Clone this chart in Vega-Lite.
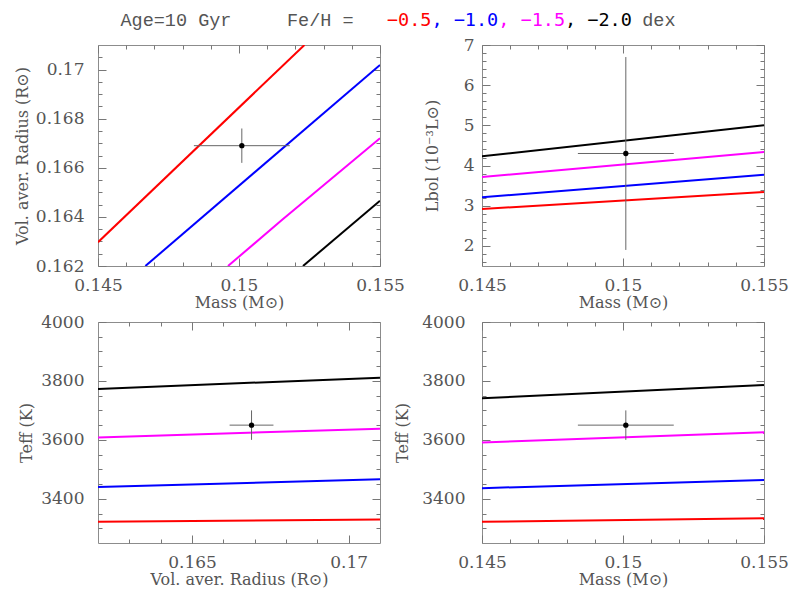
{
  "$schema": "https://vega.github.io/schema/vega-lite/v6.json",
  "padding": {"left": 13, "top": 11, "right": 5, "bottom": 5},
  "background": "white",
  "config": {
    "view": {"stroke": "#8c8c8c", "strokeWidth": 1},
    "axis": {"domain": false, "grid": false, "tickColor": "#777777", "tickWidth": 1, "labelFont": "DejaVu Serif", "labelFontSize": 17, "labelColor": "#555555", "titleFont": "DejaVu Serif", "titleFontSize": 16, "titleFontWeight": "normal", "titleColor": "#555555", "labelFlush": false, "labelOverlap": false},
    "font": "DejaVu Serif"
  },
  "datasets": {
    "star": [{"mass": 0.1501, "mass_lo": 0.1484, "mass_hi": 0.1518, "radius": 0.1669, "radius_lo": 0.1662, "radius_hi": 0.1676, "lbol": 4.3, "lbol_lo": 1.9, "lbol_hi": 6.7, "teff": 3650, "teff_lo": 3600, "teff_hi": 3700}],
    "mr": [
      {"feh": "-0.5", "mass": 0.145, "radius": 0.16297}, {"feh": "-0.5", "mass": 0.15232, "radius": 0.171},
      {"feh": "-1.0", "mass": 0.14668, "radius": 0.162}, {"feh": "-1.0", "mass": 0.155, "radius": 0.17019},
      {"feh": "-1.5", "mass": 0.14961, "radius": 0.162}, {"feh": "-1.5", "mass": 0.15152, "radius": 0.16387}, {"feh": "-1.5", "mass": 0.155, "radius": 0.1672},
      {"feh": "-2.0", "mass": 0.15227, "radius": 0.162}, {"feh": "-2.0", "mass": 0.155, "radius": 0.16466}
    ],
    "ml": [
      {"feh": "-0.5", "mass": 0.145, "lbol": 2.92}, {"feh": "-0.5", "mass": 0.155, "lbol": 3.34},
      {"feh": "-1.0", "mass": 0.145, "lbol": 3.21}, {"feh": "-1.0", "mass": 0.155, "lbol": 3.77},
      {"feh": "-1.5", "mass": 0.145, "lbol": 3.715}, {"feh": "-1.5", "mass": 0.155, "lbol": 4.34},
      {"feh": "-2.0", "mass": 0.145, "lbol": 4.23}, {"feh": "-2.0", "mass": 0.155, "lbol": 5.0}
    ],
    "rt": [
      {"feh": "-0.5", "radius": 0.162, "teff": 3322}, {"feh": "-0.5", "radius": 0.171, "teff": 3330},
      {"feh": "-1.0", "radius": 0.162, "teff": 3440}, {"feh": "-1.0", "radius": 0.171, "teff": 3466},
      {"feh": "-1.5", "radius": 0.162, "teff": 3608}, {"feh": "-1.5", "radius": 0.171, "teff": 3638},
      {"feh": "-2.0", "radius": 0.162, "teff": 3773}, {"feh": "-2.0", "radius": 0.171, "teff": 3811}
    ],
    "mt": [
      {"feh": "-0.5", "mass": 0.145, "teff": 3322}, {"feh": "-0.5", "mass": 0.155, "teff": 3334},
      {"feh": "-1.0", "mass": 0.145, "teff": 3436}, {"feh": "-1.0", "mass": 0.155, "teff": 3464},
      {"feh": "-1.5", "mass": 0.145, "teff": 3591}, {"feh": "-1.5", "mass": 0.155, "teff": 3626},
      {"feh": "-2.0", "mass": 0.145, "teff": 3741}, {"feh": "-2.0", "mass": 0.155, "teff": 3786}
    ]
  },
  "bounds": "flush",
  "spacing": 4,
  "vconcat": [
    {
      "width": 600, "height": 30,
      "view": {"fill": "white", "stroke": null},
      "data": {"values": [{"k": 1}]},
      "layer": [
        {"mark": {"type": "text", "text": "\u200bAge=10\u00a0Gyr\u00a0\u00a0\u00a0\u00a0\u00a0Fe/H\u00a0=\u00a0\u00a0\u00a0\u00a0\u00a0\u00a0\u00a0\u00a0\u00a0\u00a0\u00a0\u00a0\u00a0\u00a0\u00a0\u00a0\u00a0\u00a0\u00a0\u00a0\u00a0\u00a0\u00a0\u00a0\u00a0\u00a0dex\u200b", "font": "Liberation Mono", "fontSize": 18.5, "color": "#555555", "align": "center", "baseline": "alphabetic"}},
        {"mark": {"type": "text", "text": "\u200b\u00a0\u00a0\u00a0\u00a0\u00a0\u00a0\u00a0\u00a0\u00a0\u00a0\u00a0\u00a0\u00a0\u00a0\u00a0\u00a0\u00a0\u00a0\u00a0\u00a0\u00a0\u00a0\u00a0\u00a0\u22120.5\u00a0\u00a0\u00a0\u00a0\u00a0\u00a0\u00a0\u00a0\u00a0\u00a0\u00a0\u00a0\u00a0\u00a0\u00a0\u00a0\u00a0\u00a0\u00a0\u00a0\u00a0\u00a0\u200b", "font": "DejaVu Sans Mono", "fontSize": 18.5, "color": "#ff0000", "align": "center", "baseline": "alphabetic"}},
        {"mark": {"type": "text", "text": "\u200b\u00a0\u00a0\u00a0\u00a0\u00a0\u00a0\u00a0\u00a0\u00a0\u00a0\u00a0\u00a0\u00a0\u00a0\u00a0\u00a0\u00a0\u00a0\u00a0\u00a0\u00a0\u00a0\u00a0\u00a0\u00a0\u00a0\u00a0\u00a0,\u00a0\u22121.0\u00a0\u00a0\u00a0\u00a0\u00a0\u00a0\u00a0\u00a0\u00a0\u00a0\u00a0\u00a0\u00a0\u00a0\u00a0\u00a0\u200b", "font": "DejaVu Sans Mono", "fontSize": 18.5, "color": "#0000ff", "align": "center", "baseline": "alphabetic"}},
        {"mark": {"type": "text", "text": "\u200b\u00a0\u00a0\u00a0\u00a0\u00a0\u00a0\u00a0\u00a0\u00a0\u00a0\u00a0\u00a0\u00a0\u00a0\u00a0\u00a0\u00a0\u00a0\u00a0\u00a0\u00a0\u00a0\u00a0\u00a0\u00a0\u00a0\u00a0\u00a0\u00a0\u00a0\u00a0\u00a0\u00a0\u00a0,\u00a0\u22121.5\u00a0\u00a0\u00a0\u00a0\u00a0\u00a0\u00a0\u00a0\u00a0\u00a0\u200b", "font": "DejaVu Sans Mono", "fontSize": 18.5, "color": "#ff00ff", "align": "center", "baseline": "alphabetic"}},
        {"mark": {"type": "text", "text": "\u200b\u00a0\u00a0\u00a0\u00a0\u00a0\u00a0\u00a0\u00a0\u00a0\u00a0\u00a0\u00a0\u00a0\u00a0\u00a0\u00a0\u00a0\u00a0\u00a0\u00a0\u00a0\u00a0\u00a0\u00a0\u00a0\u00a0\u00a0\u00a0\u00a0\u00a0\u00a0\u00a0\u00a0\u00a0\u00a0\u00a0\u00a0\u00a0\u00a0\u00a0,\u00a0\u22122.0\u00a0\u00a0\u00a0\u00a0\u200b", "font": "DejaVu Sans Mono", "fontSize": 18.5, "color": "#000000", "align": "center", "baseline": "alphabetic"}}
      ]
    },
    {
      "columns": 2,
      "spacing": {"row": 56, "column": 102},
      "bounds": "flush",
      "concat": [
        {
          "width": 282, "height": 221,
          "layer": [
            {"data": {"name": "mr"}, "mark": {"type": "line", "strokeWidth": 2, "clip": true},
             "encoding": {
               "x": {"field": "mass", "type": "quantitative", "scale": {"domain": [0.145, 0.155], "nice": false, "zero": false}, "axis": {"orient": "bottom", "values": [0.145, 0.15, 0.155], "format": "~g", "tickSize": -8, "labelPadding": 19, "title": "Mass (M⊙)", "titlePadding": 1}},
               "y": {"field": "radius", "type": "quantitative", "scale": {"domain": [0.162, 0.171], "nice": false, "zero": false}, "axis": {"orient": "left", "values": [0.162, 0.164, 0.166, 0.168, 0.17], "format": "~g", "tickSize": -8, "labelPadding": 22, "title": "Vol. aver. Radius (R⊙)", "titleX": -68}},
               "color": {"field": "feh", "type": "nominal", "scale": {"domain": ["-0.5", "-1.0", "-1.5", "-2.0"], "range": ["#ff0000", "#0000ff", "#ff00ff", "#000000"]}, "legend": null}
             }},
            {"data": {"name": "star"}, "mark": {"type": "rule", "color": "#666666", "strokeWidth": 1},
             "encoding": {
               "x": {"field": "mass_lo", "type": "quantitative", "scale": {"domain": [0.145, 0.155], "nice": false, "zero": false}, "axis": {"orient": "bottom", "values": [0.146, 0.147, 0.148, 0.149, 0.151, 0.152, 0.153, 0.154], "tickSize": -4, "labels": false, "title": null}},
               "x2": {"field": "mass_hi"},
               "y": {"field": "radius", "type": "quantitative", "scale": {"domain": [0.162, 0.171], "nice": false, "zero": false}, "axis": {"orient": "left", "values": [0.1625, 0.163, 0.1635, 0.1645, 0.165, 0.1655, 0.1665, 0.167, 0.1675, 0.1685, 0.169, 0.1695, 0.1705], "tickSize": -4, "labels": false, "title": null}}
             }},
            {"data": {"name": "star"}, "mark": {"type": "rule", "color": "#666666", "strokeWidth": 1},
             "encoding": {
               "x": {"field": "mass", "type": "quantitative", "scale": {"domain": [0.145, 0.155], "nice": false, "zero": false}, "axis": {"orient": "top", "values": [0.145, 0.15, 0.155], "tickSize": -8, "labels": false, "title": null}},
               "y": {"field": "radius_lo", "type": "quantitative", "scale": {"domain": [0.162, 0.171], "nice": false, "zero": false}, "axis": {"orient": "right", "values": [0.162, 0.164, 0.166, 0.168, 0.17], "tickSize": -8, "labels": false, "title": null}},
               "y2": {"field": "radius_hi"}
             }},
            {"data": {"name": "star"}, "mark": {"type": "point", "filled": true, "color": "#000000", "size": 28, "opacity": 1},
             "encoding": {
               "x": {"field": "mass", "type": "quantitative", "scale": {"domain": [0.145, 0.155], "nice": false, "zero": false}, "axis": {"orient": "top", "values": [0.146, 0.147, 0.148, 0.149, 0.151, 0.152, 0.153, 0.154], "tickSize": -4, "labels": false, "title": null}},
               "y": {"field": "radius", "type": "quantitative", "scale": {"domain": [0.162, 0.171], "nice": false, "zero": false}, "axis": {"orient": "right", "values": [0.1625, 0.163, 0.1635, 0.1645, 0.165, 0.1655, 0.1665, 0.167, 0.1675, 0.1685, 0.169, 0.1695, 0.1705], "tickSize": -4, "labels": false, "title": null}}
             }}
          ],
          "resolve": {"axis": {"x": "independent", "y": "independent"}}
        },
        {
          "width": 282, "height": 221,
          "layer": [
            {"data": {"name": "ml"}, "mark": {"type": "line", "strokeWidth": 2, "clip": true},
             "encoding": {
               "x": {"field": "mass", "type": "quantitative", "scale": {"domain": [0.145, 0.155], "nice": false, "zero": false}, "axis": {"orient": "bottom", "values": [0.145, 0.15, 0.155], "format": "~g", "tickSize": -8, "labelPadding": 19, "title": "Mass (M⊙)", "titlePadding": 1}},
               "y": {"field": "lbol", "type": "quantitative", "scale": {"domain": [1.5, 7], "nice": false, "zero": false}, "axis": {"orient": "left", "values": [2, 3, 4, 5, 6, 7], "format": "~g", "tickSize": -8, "labelPadding": 16, "title": "Lbol (10⁻³L⊙)", "titleX": -42}},
               "color": {"field": "feh", "type": "nominal", "scale": {"domain": ["-0.5", "-1.0", "-1.5", "-2.0"], "range": ["#ff0000", "#0000ff", "#ff00ff", "#000000"]}, "legend": null}
             }},
            {"data": {"name": "star"}, "mark": {"type": "rule", "color": "#666666", "strokeWidth": 1},
             "encoding": {
               "x": {"field": "mass_lo", "type": "quantitative", "scale": {"domain": [0.145, 0.155], "nice": false, "zero": false}, "axis": {"orient": "bottom", "values": [0.146, 0.147, 0.148, 0.149, 0.151, 0.152, 0.153, 0.154], "tickSize": -4, "labels": false, "title": null}},
               "x2": {"field": "mass_hi"},
               "y": {"field": "lbol", "type": "quantitative", "scale": {"domain": [1.5, 7], "nice": false, "zero": false}, "axis": {"orient": "left", "values": [1.6, 1.8, 2.2, 2.4, 2.6, 2.8, 3.2, 3.4, 3.6, 3.8, 4.2, 4.4, 4.6, 4.8, 5.2, 5.4, 5.6, 5.8, 6.2, 6.4, 6.6, 6.8], "tickSize": -4, "labels": false, "title": null}}
             }},
            {"data": {"name": "star"}, "mark": {"type": "rule", "color": "#666666", "strokeWidth": 1},
             "encoding": {
               "x": {"field": "mass", "type": "quantitative", "scale": {"domain": [0.145, 0.155], "nice": false, "zero": false}, "axis": {"orient": "top", "values": [0.145, 0.15, 0.155], "tickSize": -8, "labels": false, "title": null}},
               "y": {"field": "lbol_lo", "type": "quantitative", "scale": {"domain": [1.5, 7], "nice": false, "zero": false}, "axis": {"orient": "right", "values": [2, 3, 4, 5, 6, 7], "tickSize": -8, "labels": false, "title": null}},
               "y2": {"field": "lbol_hi"}
             }},
            {"data": {"name": "star"}, "mark": {"type": "point", "filled": true, "color": "#000000", "size": 28, "opacity": 1},
             "encoding": {
               "x": {"field": "mass", "type": "quantitative", "scale": {"domain": [0.145, 0.155], "nice": false, "zero": false}, "axis": {"orient": "top", "values": [0.146, 0.147, 0.148, 0.149, 0.151, 0.152, 0.153, 0.154], "tickSize": -4, "labels": false, "title": null}},
               "y": {"field": "lbol", "type": "quantitative", "scale": {"domain": [1.5, 7], "nice": false, "zero": false}, "axis": {"orient": "right", "values": [1.6, 1.8, 2.2, 2.4, 2.6, 2.8, 3.2, 3.4, 3.6, 3.8, 4.2, 4.4, 4.6, 4.8, 5.2, 5.4, 5.6, 5.8, 6.2, 6.4, 6.6, 6.8], "tickSize": -4, "labels": false, "title": null}}
             }}
          ],
          "resolve": {"axis": {"x": "independent", "y": "independent"}}
        },
        {
          "width": 282, "height": 221,
          "layer": [
            {"data": {"name": "rt"}, "mark": {"type": "line", "strokeWidth": 2, "clip": true},
             "encoding": {
               "x": {"field": "radius", "type": "quantitative", "scale": {"domain": [0.162, 0.171], "nice": false, "zero": false}, "axis": {"orient": "bottom", "values": [0.165, 0.17], "format": "~g", "tickSize": -8, "labelPadding": 19, "title": "Vol. aver. Radius (R⊙)", "titlePadding": 1}},
               "y": {"field": "teff", "type": "quantitative", "scale": {"domain": [3250, 4000], "nice": false, "zero": false}, "axis": {"orient": "left", "values": [3400, 3600, 3800, 4000], "format": "d", "tickSize": -8, "labelPadding": 22, "title": "Teff (K)", "titleX": -64}},
               "color": {"field": "feh", "type": "nominal", "scale": {"domain": ["-0.5", "-1.0", "-1.5", "-2.0"], "range": ["#ff0000", "#0000ff", "#ff00ff", "#000000"]}, "legend": null}
             }},
            {"data": {"name": "star"}, "mark": {"type": "rule", "color": "#666666", "strokeWidth": 1},
             "encoding": {
               "x": {"field": "radius_lo", "type": "quantitative", "scale": {"domain": [0.162, 0.171], "nice": false, "zero": false}, "axis": {"orient": "bottom", "values": [0.163, 0.164, 0.166, 0.167, 0.168, 0.169], "tickSize": -4, "labels": false, "title": null}},
               "x2": {"field": "radius_hi"},
               "y": {"field": "teff", "type": "quantitative", "scale": {"domain": [3250, 4000], "nice": false, "zero": false}, "axis": {"orient": "left", "values": [3300, 3350, 3450, 3500, 3550, 3650, 3700, 3750, 3850, 3900, 3950], "tickSize": -4, "labels": false, "title": null}}
             }},
            {"data": {"name": "star"}, "mark": {"type": "rule", "color": "#666666", "strokeWidth": 1},
             "encoding": {
               "x": {"field": "radius", "type": "quantitative", "scale": {"domain": [0.162, 0.171], "nice": false, "zero": false}, "axis": {"orient": "top", "values": [0.165, 0.17], "tickSize": -8, "labels": false, "title": null}},
               "y": {"field": "teff_lo", "type": "quantitative", "scale": {"domain": [3250, 4000], "nice": false, "zero": false}, "axis": {"orient": "right", "values": [3400, 3600, 3800, 4000], "tickSize": -8, "labels": false, "title": null}},
               "y2": {"field": "teff_hi"}
             }},
            {"data": {"name": "star"}, "mark": {"type": "point", "filled": true, "color": "#000000", "size": 28, "opacity": 1},
             "encoding": {
               "x": {"field": "radius", "type": "quantitative", "scale": {"domain": [0.162, 0.171], "nice": false, "zero": false}, "axis": {"orient": "top", "values": [0.163, 0.164, 0.166, 0.167, 0.168, 0.169], "tickSize": -4, "labels": false, "title": null}},
               "y": {"field": "teff", "type": "quantitative", "scale": {"domain": [3250, 4000], "nice": false, "zero": false}, "axis": {"orient": "right", "values": [3300, 3350, 3450, 3500, 3550, 3650, 3700, 3750, 3850, 3900, 3950], "tickSize": -4, "labels": false, "title": null}}
             }}
          ],
          "resolve": {"axis": {"x": "independent", "y": "independent"}}
        },
        {
          "width": 282, "height": 221,
          "layer": [
            {"data": {"name": "mt"}, "mark": {"type": "line", "strokeWidth": 2, "clip": true},
             "encoding": {
               "x": {"field": "mass", "type": "quantitative", "scale": {"domain": [0.145, 0.155], "nice": false, "zero": false}, "axis": {"orient": "bottom", "values": [0.145, 0.15, 0.155], "format": "~g", "tickSize": -8, "labelPadding": 19, "title": "Mass (M⊙)", "titlePadding": 1}},
               "y": {"field": "teff", "type": "quantitative", "scale": {"domain": [3250, 4000], "nice": false, "zero": false}, "axis": {"orient": "left", "values": [3400, 3600, 3800, 4000], "format": "d", "tickSize": -8, "labelPadding": 25, "title": "Teff (K)", "titleX": -72}},
               "color": {"field": "feh", "type": "nominal", "scale": {"domain": ["-0.5", "-1.0", "-1.5", "-2.0"], "range": ["#ff0000", "#0000ff", "#ff00ff", "#000000"]}, "legend": null}
             }},
            {"data": {"name": "star"}, "mark": {"type": "rule", "color": "#666666", "strokeWidth": 1},
             "encoding": {
               "x": {"field": "mass_lo", "type": "quantitative", "scale": {"domain": [0.145, 0.155], "nice": false, "zero": false}, "axis": {"orient": "bottom", "values": [0.146, 0.147, 0.148, 0.149, 0.151, 0.152, 0.153, 0.154], "tickSize": -4, "labels": false, "title": null}},
               "x2": {"field": "mass_hi"},
               "y": {"field": "teff", "type": "quantitative", "scale": {"domain": [3250, 4000], "nice": false, "zero": false}, "axis": {"orient": "left", "values": [3300, 3350, 3450, 3500, 3550, 3650, 3700, 3750, 3850, 3900, 3950], "tickSize": -4, "labels": false, "title": null}}
             }},
            {"data": {"name": "star"}, "mark": {"type": "rule", "color": "#666666", "strokeWidth": 1},
             "encoding": {
               "x": {"field": "mass", "type": "quantitative", "scale": {"domain": [0.145, 0.155], "nice": false, "zero": false}, "axis": {"orient": "top", "values": [0.145, 0.15, 0.155], "tickSize": -8, "labels": false, "title": null}},
               "y": {"field": "teff_lo", "type": "quantitative", "scale": {"domain": [3250, 4000], "nice": false, "zero": false}, "axis": {"orient": "right", "values": [3400, 3600, 3800, 4000], "tickSize": -8, "labels": false, "title": null}},
               "y2": {"field": "teff_hi"}
             }},
            {"data": {"name": "star"}, "mark": {"type": "point", "filled": true, "color": "#000000", "size": 28, "opacity": 1},
             "encoding": {
               "x": {"field": "mass", "type": "quantitative", "scale": {"domain": [0.145, 0.155], "nice": false, "zero": false}, "axis": {"orient": "top", "values": [0.146, 0.147, 0.148, 0.149, 0.151, 0.152, 0.153, 0.154], "tickSize": -4, "labels": false, "title": null}},
               "y": {"field": "teff", "type": "quantitative", "scale": {"domain": [3250, 4000], "nice": false, "zero": false}, "axis": {"orient": "right", "values": [3300, 3350, 3450, 3500, 3550, 3650, 3700, 3750, 3850, 3900, 3950], "tickSize": -4, "labels": false, "title": null}}
             }}
          ],
          "resolve": {"axis": {"x": "independent", "y": "independent"}}
        }
      ]
    }
  ]
}
